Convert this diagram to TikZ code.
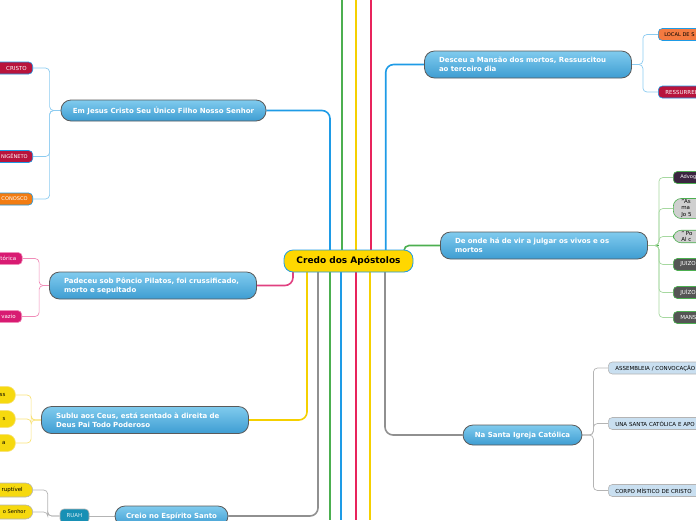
\documentclass[tikz,border=0pt]{standalone}
\usepackage{fontspec}
\setmainfont{DejaVu Sans}
\usepackage{tikz}
\usetikzlibrary{backgrounds}
\definecolor{cblue}{HTML}{1E9BE6}
\definecolor{lblue}{HTML}{8CCBF0}
\definecolor{cgreen}{HTML}{4CAF50}
\definecolor{lgreen}{HTML}{A6D8A0}
\definecolor{cyellow}{HTML}{F5D000}
\definecolor{lyellow}{HTML}{F8E27A}
\definecolor{cred}{HTML}{E8245C}
\definecolor{cpink}{HTML}{E04080}
\definecolor{lpink}{HTML}{F08CB8}
\definecolor{cgrey}{HTML}{909090}
\definecolor{lgrey}{HTML}{B4B4B4}
\definecolor{gold}{HTML}{FFD700}
\definecolor{topictop}{HTML}{80CBEE}
\definecolor{topicbot}{HTML}{3E9DD2}
\definecolor{edge}{HTML}{5A5A5A}
\definecolor{crimson}{HTML}{B8143C}
\definecolor{orng}{HTML}{F27C12}
\definecolor{magenta}{HTML}{D81B72}
\definecolor{leafyellow}{HTML}{F6D90F}
\definecolor{teal}{HTML}{1790B5}
\definecolor{salmon}{HTML}{F47A40}
\definecolor{plum}{HTML}{3B2540}
\definecolor{pale}{HTML}{CFCFCF}
\definecolor{slate}{HTML}{555555}
\definecolor{sky}{HTML}{C9DFF0}

\begin{document}
\begin{tikzpicture}[x=1pt, y=-1pt,
      root/.style={draw=cblue, line width=0.8pt, fill=gold, rounded corners=9pt,
                   minimum width=129pt, minimum height=22pt,
                   font=\fontsize{9}{10}\selectfont\bfseries},
      topic/.style={draw=edge, line width=0.8pt, rounded corners=10pt,
                    top color=topictop, bottom color=topicbot, text=white,
                    font=\fontsize{7}{9}\selectfont\bfseries, inner xsep=14.5pt},
      oneline/.style={topic, inner xsep=8pt, minimum height=20pt},
      twoline/.style={topic, text width=178pt, align=left, minimum height=27pt},
      leaf/.style={draw, line width=0.6pt, rounded corners=4pt, minimum height=12pt,
                   inner ysep=1pt, font=\fontsize{5.5}{6.5}\selectfont},
      leafl/.style={leaf, anchor=east, text width=60pt, align=right, inner xsep=6pt},
      leafr/.style={leaf, anchor=west, text width=80pt, align=left, inner xsep=7pt},
      narrow/.style={inner xsep=5pt, font=\fontsize{5.1}{6.5}\selectfont},
      conn/.style={line width=1.6pt, rounded corners=8pt},
      twig/.style={line width=0.7pt, rounded corners=4pt}]
    \useasboundingbox (0,0) rectangle (696,520);
    \clip (0,0) rectangle (696,520);

    \node[root] (root) at (348.5,261) {Credo dos Apóstolos};

    \node[oneline, minimum width=205pt, minimum height=21pt] (jesus) at (163.5,110.5)
      {Em Jesus Cristo Seu Único Filho Nosso Senhor};
    \node[twoline] (padeceu) at (153,285.5)
      {Padeceu sob Pôncio Pilatos, foi crussificado,\\morto e sepultado};
    \node[twoline] (sublu) at (145,420)
      {Sublu aos Ceus, está sentado à direita de\\Deus Pai Todo Poderoso};
    \node[oneline, minimum width=113pt] (creio) at (171.5,516)
      {Creio no Espírito Santo};
    \node[twoline] (desceu) at (528,64.5)
      {Desceu a Mansão dos mortos, Ressuscitou\\ao terceiro dia};
    \node[twoline] (julgar) at (544,245.5)
      {De onde há de vir a julgar os vivos e os\\mortos};
    \node[oneline, minimum width=119pt] (igreja) at (522.5,435)
      {Na Santa Igreja Católica};

    \node[leafl, draw=cblue, fill=crimson, text=white] (cristo) at (33,68) {CRISTO};
    \node[leafl, narrow, draw=cblue, fill=crimson, text=white] (unigenito) at (33,156.5) {NIGÊNETO};
    \node[leafl, narrow, draw=cblue, fill=orng, text=white] (conosco) at (33,199) {CONOSCO};
    \node[leafl, draw=lpink, fill=magenta, text=white] (historica) at (22.5,258.5) {tórica};
    \node[leafl, draw=lpink, fill=magenta, text=white] (vazio) at (22,316.5) {vazio};
    \node[leafl, draw=lyellow, fill=leafyellow, rounded corners=8pt, minimum height=17pt,
          inner xsep=10pt] (ceu1) at (15.7,395) {ss};
    \node[leafl, draw=lyellow, fill=leafyellow, rounded corners=8pt, minimum height=17pt,
          inner xsep=10pt] (ceu2) at (15.7,419) {s};
    \node[leafl, draw=lyellow, fill=leafyellow, rounded corners=8pt, minimum height=17pt,
          inner xsep=10pt] (ceu3) at (15.7,443) {a};
    \node[leafl, draw=lgrey, fill=leafyellow, rounded corners=7pt, minimum height=14pt,
          inner xsep=10pt] (incorrupt) at (33,490) {ruptível};
    \node[leafl, narrow, draw=lgrey, fill=leafyellow, rounded corners=7pt, minimum height=14pt,
          inner xsep=7pt] (senhor) at (33,512) {o Senhor};
    \node[leaf, draw=lgrey, fill=teal, text=white!85!teal, minimum width=29pt,
          minimum height=14pt] (ruah) at (74.5,516) {RUAH};

    \node[leafr, narrow, draw=cblue, fill=salmon, text width=80pt, inner xsep=6pt] (local) at (658,34.5) {LOCAL DE S};
    \node[leafr, draw=cblue, fill=crimson, text=white] (ressur) at (658,92) {RESSURREI};
    \node[leafr, narrow, draw=cgreen, fill=plum, text=white, text width=80pt, inner xsep=7pt] (advog) at (673,177.5) {Advog};
    \node[leafr, draw=cgreen, fill=pale, rounded corners=8pt, inner xsep=8pt] (assim) at (673,208.5)
      {"As\\ma\\Jo 5};
    \node[leafr, draw=cgreen, fill=pale, rounded corners=8pt, inner xsep=8pt] (pois) at (673,236.5)
      {" Po\\Al c};
    \node[leafr, draw=cgreen, fill=slate, text=white] (juizo) at (673,264.5) {JUIZO};
    \node[leafr, draw=cgreen, fill=slate, text=white] (juizofinal) at (673,292.5) {JUÍZO};
    \node[leafr, draw=cgreen, fill=slate, text=white] (mansao) at (673,317.5) {MANS};
    \node[leafr, draw=lgrey, fill=sky, text width=100pt] (assembleia) at (608,368)
      {ASSEMBLEIA / CONVOCAÇÃO};
    \node[leafr, draw=lgrey, fill=sky, text width=100pt] (una) at (608,423.5)
      {UNA SANTA CATÓLICA E APO};
    \node[leafr, draw=lgrey, fill=sky, text width=100pt] (corpo) at (608,490.5)
      {CORPO MÍSTICO DE CRISTO};

    \coordinate (topgreen) at (341.7,0);
    \coordinate (topyellow) at (356,0);
    \coordinate (topred) at (371,0);
    \coordinate (botgreen) at (330,520);
    \coordinate (botblue) at (341,520);
    \coordinate (botred) at (356,520);
    \coordinate (botyellow) at (370,520);

    \begin{scope}[on background layer]
      \draw[conn, cgreen] (root.center -| topgreen) -- (topgreen);
      \draw[conn, cyellow] (root.center -| topyellow) -- (topyellow);
      \draw[conn, cred] (root.center -| topred) -- (topred);
      \draw[conn, cgreen] (root.center -| botgreen) -- (botgreen);
      \draw[conn, cblue] (root.center -| botblue) -- (botblue);
      \draw[conn, cred] (root.center -| botred) -- (botred);
      \draw[conn, cyellow] (root.center -| botyellow) -- (botyellow);

      \draw[conn, cblue] ([xshift=-18.5pt]root.center) |- (jesus.east);
      \draw[conn, cpink] ([xshift=-55.5pt]root.center) |- (padeceu.east);
      \draw[conn, cyellow] ([xshift=-41.5pt]root.center) |- (sublu.east);
      \draw[conn, cgrey] ([xshift=-30.5pt]root.center) |- (creio.east);
      \draw[conn, cblue] ([xshift=37.2pt]root.center) |- (desceu.west);
      \draw[conn, cgreen, rounded corners=5pt] ([xshift=55.5pt]root.center) |- (julgar.west);
      \draw[conn, cgrey] ([xshift=36.5pt]root.center) |- (igreja.west);

      \draw[twig, lblue] (jesus.west) -- ++(-11,0) |- (cristo.east);
      \draw[twig, lblue] (jesus.west) -- ++(-11,0) |- (unigenito.east);
      \draw[twig, lblue] (jesus.west) -- ++(-11,0) |- (conosco.east);
      \draw[twig, lpink] (padeceu.west) -- ++(-10,0) |- (historica.east);
      \draw[twig, lpink] (padeceu.west) -- ++(-10,0) |- (vazio.east);
      \draw[twig, lyellow] (sublu.west) -- ++(-10,0) |- (ceu1.east);
      \draw[twig, lyellow] (sublu.west) -- ++(-10,0) |- (ceu2.east);
      \draw[twig, lyellow] (sublu.west) -- ++(-10,0) |- (ceu3.east);
      \draw[twig, lgrey] (creio.west) -- (ruah.east);
      \draw[twig, lgrey] (ruah.west) -- ++(-12,0) |- (incorrupt.east);
      \draw[twig, lgrey] (ruah.west) -- ++(-12,0) |- (senhor.east);

      \draw[twig, lblue] (desceu.east) -- ++(11,0) |- (local.west);
      \draw[twig, lblue] (desceu.east) -- ++(11,0) |- (ressur.west);
      \draw[line width=1.2pt, cgreen] (julgar.east) -- ++(11,0);
      \foreach \leafname in {advog, assim, pois, juizo, juizofinal, mansao}
        \draw[twig, lgreen] (julgar.east) -- ++(11,0) |- (\leafname.west);
      \draw[twig, lgrey] (igreja.east) -- ++(11,0) |- (assembleia.west);
      \draw[twig, lgrey] (igreja.east) -- ++(11,0) |- (una.west);
      \draw[twig, lgrey] (igreja.east) -- ++(11,0) |- (corpo.west);
    \end{scope}
  \end{tikzpicture}
\end{document}
